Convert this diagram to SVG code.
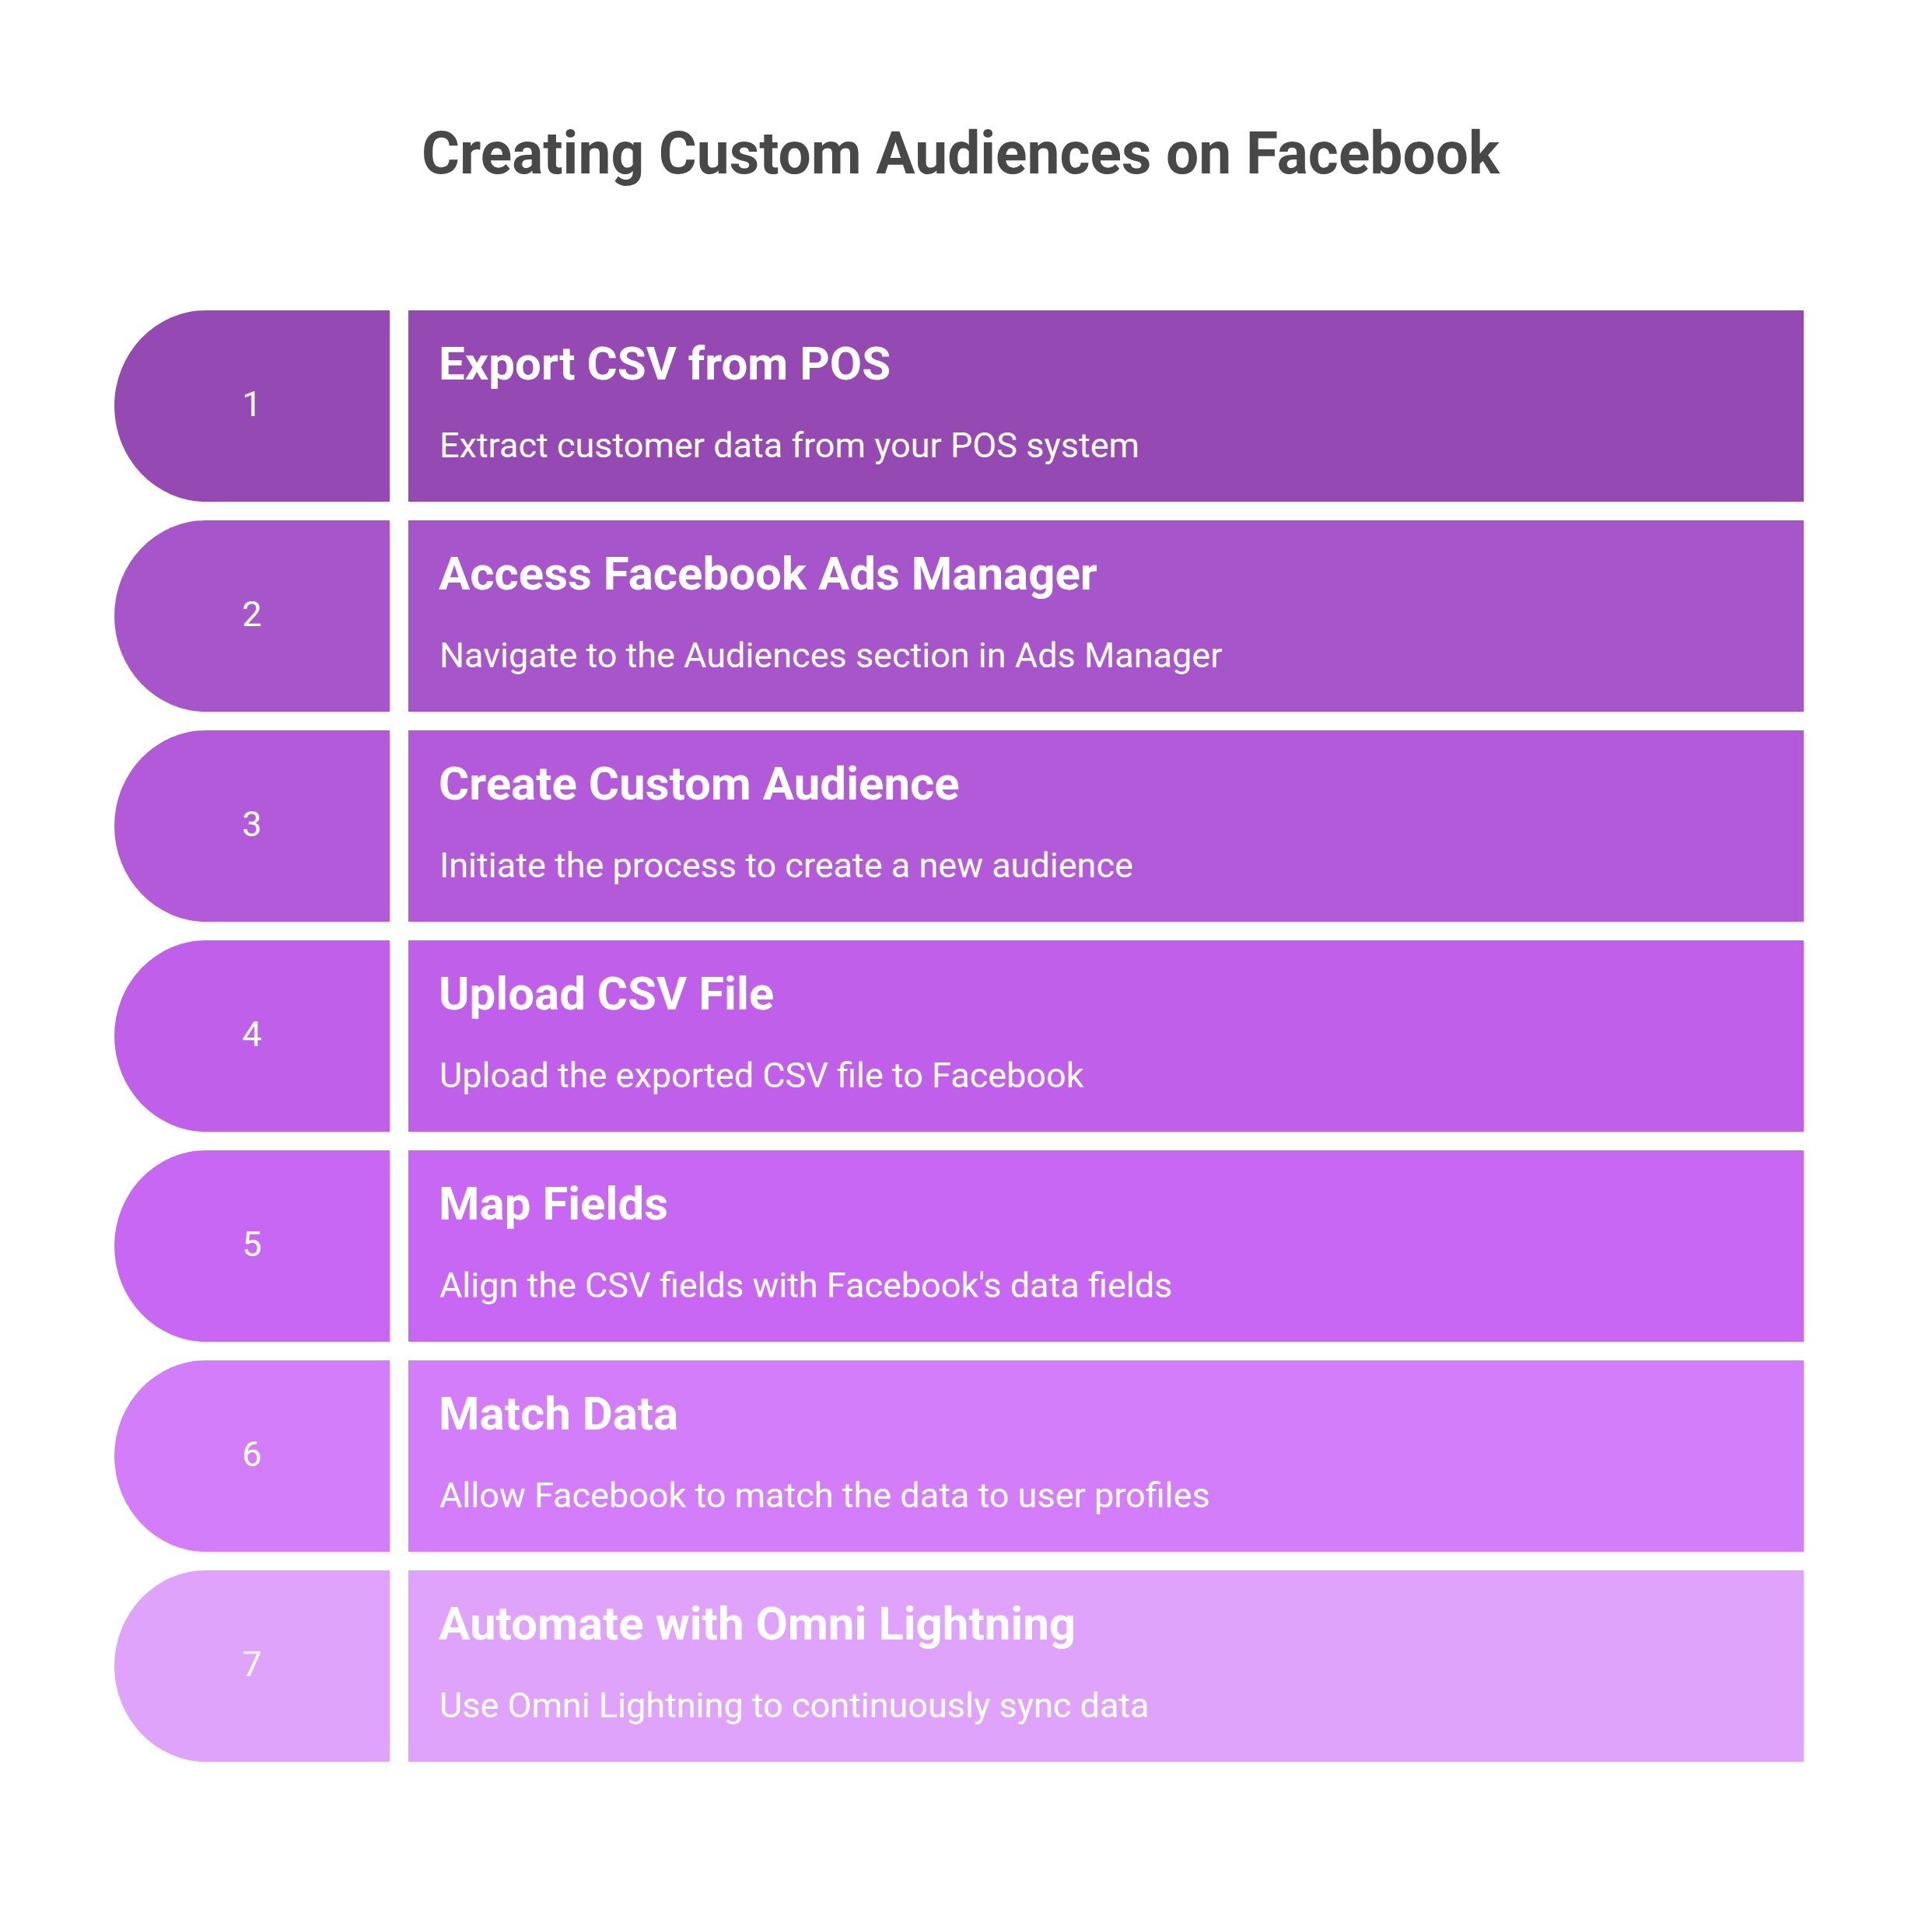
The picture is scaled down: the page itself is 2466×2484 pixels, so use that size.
<svg xmlns="http://www.w3.org/2000/svg" width="2466" height="2484" viewBox="0 0 2466 2484">
<style>
.title{font-family:Roboto,"Liberation Sans",sans-serif;font-weight:700;font-size:76px;fill:#484848}
.num{font-family:Roboto,"Liberation Sans",sans-serif;font-size:45px;fill:#ffffff;text-anchor:middle}
.head{font-family:Roboto,"Liberation Sans",sans-serif;font-weight:700;font-size:60px;fill:#ffffff}
.desc{font-family:Roboto,"Liberation Sans",sans-serif;font-size:45px;fill:#ffffff}
</style>
<defs>
<path id="pill" d="M501 0 H265 A118 123 0 0 0 147 123 A118 123 0 0 0 265 246 H501 Z"/>
</defs>
<rect width="2466" height="2484" fill="#ffffff"/>
<text class="title" x="542" y="223" textLength="1386" lengthAdjust="spacingAndGlyphs">Creating Custom Audiences on Facebook</text>
<g id="step1" transform="translate(0,399)">
<use href="#pill" fill="#9549B3"/><rect x="525" y="0" width="1794" height="246" fill="#9549B3"/>
<text class="num" x="324" y="136">1</text>
<text class="head" x="564" y="89">Export CSV from POS</text>
<text class="desc" x="565" y="189">Extract customer data from your POS system</text>
</g>
<g id="step2" transform="translate(0,669)">
<use href="#pill" fill="#A755CB"/><rect x="525" y="0" width="1794" height="246" fill="#A755CB"/>
<text class="num" x="324" y="136">2</text>
<text class="head" x="564" y="89">Access Facebook Ads Manager</text>
<text class="desc" x="565" y="189">Navigate to the Audiences section in Ads Manager</text>
</g>
<g id="step3" transform="translate(0,939)">
<use href="#pill" fill="#B35ADA"/><rect x="525" y="0" width="1794" height="246" fill="#B35ADA"/>
<text class="num" x="324" y="136">3</text>
<text class="head" x="564" y="89">Create Custom Audience</text>
<text class="desc" x="565" y="189">Initiate the process to create a new audience</text>
</g>
<g id="step4" transform="translate(0,1209)">
<use href="#pill" fill="#C05FEA"/><rect x="525" y="0" width="1794" height="246" fill="#C05FEA"/>
<text class="num" x="324" y="136">4</text>
<text class="head" x="564" y="89">Upload CSV File</text>
<text class="desc" x="565" y="189">Upload the exported CSV file to Facebook</text>
</g>
<g id="step5" transform="translate(0,1479)">
<use href="#pill" fill="#C967F5"/><rect x="525" y="0" width="1794" height="246" fill="#C967F5"/>
<text class="num" x="324" y="136">5</text>
<text class="head" x="564" y="89">Map Fields</text>
<text class="desc" x="565" y="189">Align the CSV fields with Facebook's data fields</text>
</g>
<g id="step6" transform="translate(0,1749)">
<use href="#pill" fill="#D47DFA"/><rect x="525" y="0" width="1794" height="246" fill="#D47DFA"/>
<text class="num" x="324" y="136">6</text>
<text class="head" x="564" y="89">Match Data</text>
<text class="desc" x="565" y="189">Allow Facebook to match the data to user profiles</text>
</g>
<g id="step7" transform="translate(0,2019)">
<use href="#pill" fill="#E0A3FB"/><rect x="525" y="0" width="1794" height="246" fill="#E0A3FB"/>
<text class="num" x="324" y="136">7</text>
<text class="head" x="564" y="89">Automate with Omni Lightning</text>
<text class="desc" x="565" y="189">Use Omni Lightning to continuously sync data</text>
</g>
<g id="connectors"/>
</svg>
